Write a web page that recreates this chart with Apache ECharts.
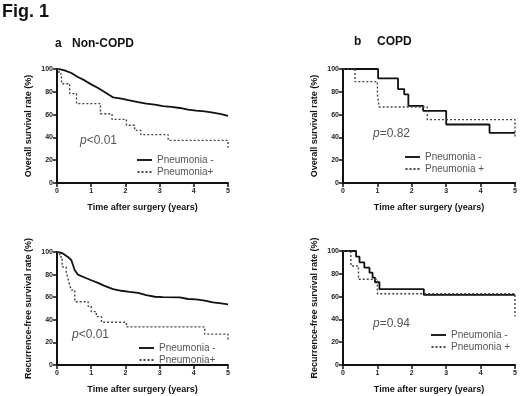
<!DOCTYPE html>
<html>
<head>
<meta charset="utf-8">
<script src="https://cdn.jsdelivr.net/npm/echarts@6/dist/echarts.min.js"></script>
<style>
  html, body { margin: 0; padding: 0; background: #fff; }
  #chart { width: 520px; height: 396px; }
</style>
</head>
<body>
<div id="chart"></div>
<script>
// Kaplan-Meier curves: [years, percent]
const aNeg = [[0,100],[0.1,99.6],[0.22,98.8],[0.42,96.5],[0.61,93],[0.81,90],[1.0,86.5],[1.2,83.3],[1.39,79.8],
  [1.54,76.9],[1.64,75.1],[1.88,74],[2.12,72.5],[2.37,71],[2.61,69.6],[2.86,68.7],[3.1,67.5],
  [3.34,66.7],[3.59,65.8],[3.83,64.3],[4.07,63.5],[4.32,62.9],[4.56,61.7],[4.8,60.5],[5,58.8]];
const aPos = [[0,100],[0.06,95.7],[0.13,87.1],[0.37,78.4],[0.57,69.6],[1.27,60.8],[1.61,55.8],
  [2.03,50.6],[2.27,46.2],[2.45,42.4],[3.25,37.4],[5,37.4],[5,31]];
const bNeg = [[0,100],[1.02,91.7],[1.6,82.4],[1.78,77.7],[1.9,67.7],[2.33,63.3],[3.0,51.3],[4.26,44],[5,44]];
const bPos = [[0,100],[0.35,88.9],[1.0,77.8],[1.05,66.7],[2.45,55.6],[5,55.6],[5,39.6]];
const cNeg = [[0,100],[0.1,99.5],[0.18,98.5],[0.32,95.6],[0.42,92.7],[0.47,88.3],[0.52,83.9],[0.61,80],[0.81,77.4],
  [1.0,75],[1.2,72.7],[1.39,70],[1.64,67.2],[1.88,65.7],[2.12,64.8],[2.37,63.9],[2.61,61.9],
  [2.86,60.4],[3.1,60],[3.59,59.8],[3.83,58.4],[4.07,58.1],[4.32,56.9],[4.56,55.4],[4.8,54.5],[5,53.7]];
const cPos = [[0,100],[0.08,95.6],[0.15,86.8],[0.27,82.4],[0.32,76.5],[0.37,70.7],[0.42,66.3],[0.52,56],
  [0.91,51.9],[1.0,47.2],[1.15,42.8],[1.3,37.8],[2.03,33.7],[4.32,27.3],[5,27.3],[5,21.4]];
const dNeg = [[0,100],[0.38,95],[0.48,90.1],[0.62,85.4],[0.77,81],[0.86,76.7],[0.93,72.6],[1.06,66.5],[2.35,61.5],[5,61.5]];
const dPos = [[0,100],[0.23,86.9],[0.45,75.2],[1.0,62.5],[5,62.5],[5,42.6]];

const yTicks = [0, 20, 40, 60, 80, 100];
const xTicks = [0, 1, 2, 3, 4, 5];

const font = 'Liberation Sans, Arial, sans-serif';
const grids = [
  { left: 57, top: 69, width: 171, height: 114 },
  { left: 343, top: 69, width: 172, height: 114 },
  { left: 57, top: 252, width: 171, height: 113 },
  { left: 343, top: 251, width: 172, height: 114 }
];
const yNames = ['Overall survival rate (%)', 'Overall survival rate (%)',
  'Recurrence-free survival rate (%)', 'Recurrence-free survival rate (%)'];
const posNames = ['Pneumonia+', 'Pneumonia +', 'Pneumonia+', 'Pneumonia +'];
const curves = [[aNeg, aPos], [bNeg, bPos], [cNeg, cPos], [dNeg, dPos]];
// the large groups have many tiny steps, drawn as a plain polyline
const negStep = [false, 'end', false, 'end'];

const axisLine = { show: true, lineStyle: { color: '#111', width: 2 } };
const axisTick = { show: true, length: 4, lineStyle: { color: '#111', width: 1.5 } };

const xAxis = grids.map((g, i) => ({
  type: 'value', gridIndex: i, min: 0, max: 5, interval: 1,
  name: 'Time after surgery (years)', nameLocation: 'middle', nameGap: 20,
  nameTextStyle: { fontFamily: font, fontSize: 9, fontWeight: 'bold', color: '#111' },
  axisLine: axisLine, axisTick: axisTick, splitLine: { show: false },
  axisLabel: { fontFamily: font, fontSize: 7, fontWeight: 'bold', color: '#222', margin: 5,
    formatter: v => xTicks.includes(v) ? String(v) : '' }
}));
const yAxis = grids.map((g, i) => ({
  type: 'value', gridIndex: i, min: 0, max: 100, interval: 20,
  name: yNames[i], nameLocation: 'middle', nameGap: 24,
  nameTextStyle: { fontFamily: font, fontSize: 9, fontWeight: 'bold', color: '#111' },
  axisLine: axisLine, axisTick: axisTick, splitLine: { show: false },
  axisLabel: { fontFamily: font, fontSize: 7, fontWeight: 'bold', color: '#222', margin: 4,
    formatter: v => yTicks.includes(v) ? String(v) : '' }
}));

const series = [];
curves.forEach((pair, i) => {
  series.push({
    name: 'Pneumonia -', type: 'line', step: negStep[i], xAxisIndex: i, yAxisIndex: i,
    data: pair[0], symbol: 'none', showSymbol: false, silent: true,
    lineStyle: { color: '#111', width: 1.8, type: 'solid' }, itemStyle: { color: '#111' }
  });
  series.push({
    name: posNames[i], type: 'line', step: 'end', xAxisIndex: i, yAxisIndex: i,
    data: pair[1], symbol: 'none', showSymbol: false, silent: true,
    lineStyle: { color: '#444', width: 1.4, type: [2, 2] }, itemStyle: { color: '#444' }
  });
});

// legend swatches: a solid bar and a dotted bar
const solidIcon = 'path://M0 0H16V2H0Z';
const dotIcon = 'path://M0 0h2v2h-2zM4 0h2v2h-2zM8 0h2v2h-2zM12 0h2v2h-2z';
const legendPos = [[132, 150], [400, 147], [134, 338], [426, 325]];
const legend = legendPos.map((p, i) => ({
  left: p[0], top: p[1], orient: 'vertical', itemWidth: 15, itemHeight: 2, itemGap: 2,
  selectedMode: false,
  data: [{ name: 'Pneumonia -', icon: solidIcon }, { name: posNames[i], icon: dotIcon }],
  textStyle: { fontFamily: font, fontSize: 10, color: '#555' }
}));

const pLabels = [['<0.01', 80, 142], ['=0.82', 373, 135], ['<0.01', 72, 336], ['=0.94', 373, 325]];
const graphic = [
  { type: 'text', left: 2, top: 3, style: { text: 'Fig. 1', font: 'bold 18px ' + font, fill: '#111' } },
  { type: 'text', left: 55, top: 38, style: { text: 'a', font: 'bold 12px ' + font, fill: '#111' } },
  { type: 'text', left: 72, top: 38, style: { text: 'Non-COPD', font: 'bold 12px ' + font, fill: '#111' } },
  { type: 'text', left: 354, top: 36, style: { text: 'b', font: 'bold 12px ' + font, fill: '#111' } },
  { type: 'text', left: 377, top: 36, style: { text: 'COPD', font: 'bold 12px ' + font, fill: '#111' } }
].concat(pLabels.map(p => ({
  type: 'text', left: p[1], top: p[2] - 7,
  style: {
    text: '{i|p}{n|' + p[0] + '}',
    rich: {
      i: { fontFamily: font, fontSize: 12, fontStyle: 'italic', fill: '#555' },
      n: { fontFamily: font, fontSize: 12, fill: '#555' }
    }
  }
})));

const chart = echarts.init(document.getElementById('chart'), null, { renderer: 'canvas' });
chart.setOption({
  backgroundColor: '#fff',
  animation: false,
  grid: grids,
  xAxis: xAxis,
  yAxis: yAxis,
  legend: legend,
  series: series,
  graphic: graphic
});
</script>
</body>
</html>
